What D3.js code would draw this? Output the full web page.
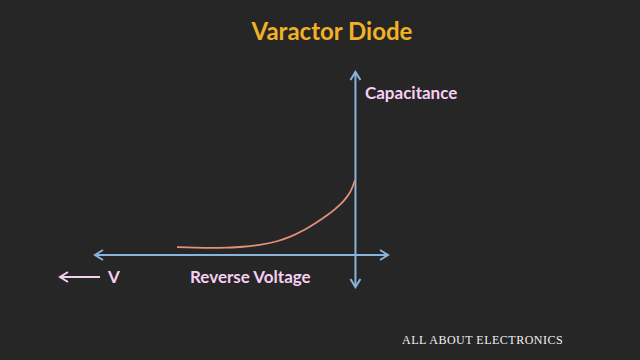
<!DOCTYPE html>
<html><head><meta charset="utf-8">
<script src="https://cdn.jsdelivr.net/npm/d3@7"></script>
<style>html,body{margin:0;padding:0;background:#262626;}svg{display:block;}</style>
</head><body>
<svg id="c" width="640" height="360"></svg>
<script>
// Data (reverse voltage drawn as negative, to the left of origin)
const voltage = [-5.48, -4.95, -4.47, -3.95, -3.45, -2.9, -2.41, -2.0, -1.61, -1.22, -0.87, -0.6, -0.38, -0.18, -0.01];
const capacitance = [0.26, 0.24, 0.23, 0.24, 0.27, 0.34, 0.45, 0.60, 0.80, 1.05, 1.30, 1.53, 1.75, 2.03, 2.46];
const title = "Varactor Diode";
const yLabel = "Capacitance";
const xLabel = "Reverse Voltage";
const vLabel = "V";
const credit = "ALL ABOUT ELECTRONICS";

const svg = d3.select("#c");
svg.append("rect").attr("width",640).attr("height",360).attr("fill","#262626");

const x = d3.scaleLinear().domain([-8, 1]).range([95, 388]);
const y = d3.scaleLinear().domain([-1.05, 6]).range([287, 72]);

const axisCol = "#8ab4dc";
const defs = svg.append("defs");
function mk(id, col){
  defs.append("marker").attr("id",id).attr("viewBox","0 0 12 12").attr("refX",10).attr("refY",6)
    .attr("markerWidth",12).attr("markerHeight",12).attr("markerUnits","userSpaceOnUse").attr("orient","auto-start-reverse")
    .append("path").attr("d","M2,1 L10,6 L2,11").attr("fill","none").attr("stroke",col).attr("stroke-width",2);
}
mk("aB", axisCol);
mk("aP", "#f0d0f0");

// horizontal axis
svg.append("line").attr("x1",x(-8)).attr("x2",x(1)).attr("y1",y(0)).attr("y2",y(0))
  .attr("stroke",axisCol).attr("stroke-width",2)
  .attr("marker-start","url(#aB)").attr("marker-end","url(#aB)");
// vertical axis
svg.append("line").attr("x1",x(0)).attr("x2",x(0)).attr("y1",y(-1.05)).attr("y2",y(6))
  .attr("stroke",axisCol).attr("stroke-width",2)
  .attr("marker-start","url(#aB)").attr("marker-end","url(#aB)");

// curve
const pts = voltage.map((v,i)=>[v, capacitance[i]]);
svg.append("path").datum(pts)
  .attr("d", d3.line().x(d=>x(d[0])).y(d=>y(d[1])).curve(d3.curveCatmullRom))
  .attr("fill","none").attr("stroke","#e48f7c").attr("stroke-width",1.8);

// title
svg.append("text").attr("x",332).attr("y",40).attr("text-anchor","middle")
  .attr("font-family","Lato, sans-serif").attr("font-weight","bold").attr("font-size",24)
  .attr("fill","#f2b224").text(title);

const labCol = "#f6d0f4";
svg.append("text").attr("x",365).attr("y",99)
  .attr("font-family","Lato, sans-serif").attr("font-weight","bold").attr("font-size",17)
  .attr("fill",labCol).text(yLabel);
svg.append("text").attr("x",190).attr("y",283)
  .attr("font-family","Lato, sans-serif").attr("font-weight","bold").attr("font-size",17)
  .attr("fill",labCol).text(xLabel);
svg.append("text").attr("x",108).attr("y",283)
  .attr("font-family","Lato, sans-serif").attr("font-weight","bold").attr("font-size",17)
  .attr("fill",labCol).text(vLabel);
// small V arrow
svg.append("line").attr("x1",100).attr("x2",60).attr("y1",277).attr("y2",277)
  .attr("stroke","#f0d0f0").attr("stroke-width",2).attr("marker-end","url(#aP)");

svg.append("text").attr("x",402).attr("y",344)
  .attr("font-family","'Liberation Serif', serif").attr("font-size",12).attr("letter-spacing",0.5)
  .attr("fill","#f2f2f2").text(credit);
</script>
</body></html>
